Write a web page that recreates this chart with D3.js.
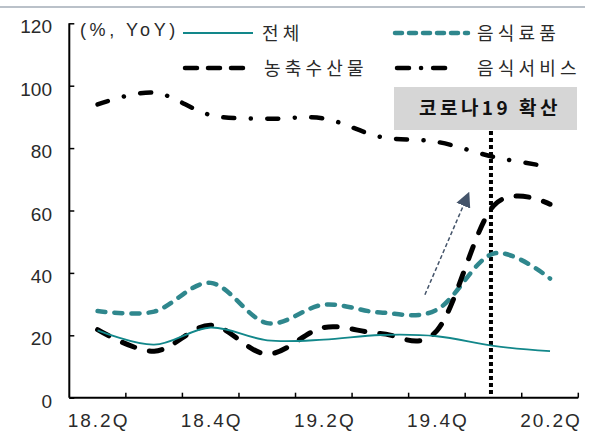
<!DOCTYPE html>
<html>
<head>
<meta charset="utf-8">
<script src="https://cdn.jsdelivr.net/npm/d3@7"></script>
<style>
  html, body { margin: 0; padding: 0; background: #fff; }
  svg { display: block; }
</style>
</head>
<body>
<svg id="chart" width="595" height="432"></svg>
<script>
// Quarters on the x axis (every other one is labelled)
const quarters = ["18.2Q", "18.3Q", "18.4Q", "19.1Q", "19.2Q", "19.3Q", "19.4Q", "20.1Q", "20.2Q"];
const labelledQuarters = ["18.2Q", "18.4Q", "19.2Q", "19.4Q", "20.2Q"];
const yTicks = [0, 20, 40, 60, 80, 100, 120];

// Growth rates, % YoY
const total      = [21.6, 17.0, 22.5, 18.4, 18.6, 20.1, 19.7, 16.6, 14.9];   // 전체
const foodGoods  = [27.8, 27.6, 36.8, 23.9, 29.8, 27.3, 28.2, 46.2, 38.2];   // 음식료품
const farmGoods  = [21.8, 14.9, 23.2, 14.0, 22.5, 20.6, 21.5, 61.5, 62.0];   // 농축수산물
const foodServ   = [94.0, 97.8, 90.6, 89.4, 89.5, 83.6, 82.0, 77.2, 74.0];   // 음식서비스

const seriesNames = ["전체", "음식료품", "농축수산물", "음식서비스"];
const covidQuarter = "20.1Q";
const covidLabel = "코로나19 확산";
const unitLabel = "(%, YoY)";

const svg = d3.select("#chart");
const plotL = 69.3, plotR = 578.3, plotT = 23.3, plotB = 397.7;

const x = d3.scaleBand().domain(quarters).range([plotL, plotR]).paddingInner(0).paddingOuter(0);
const xc = q => x(q) + x.bandwidth() / 2;
const y = d3.scaleLinear().domain([0, 120]).range([plotB, plotT]);

const numFont = "'Liberation Sans', Arial, sans-serif";
const korFont = "'Noto Sans CJK KR', 'Noto Sans', sans-serif";

// thin rule across the top
svg.append("line")
  .attr("x1", 0).attr("x2", 585).attr("y1", 7).attr("y2", 7)
  .attr("stroke", "#a3acb7").attr("stroke-width", 1.5);

// series styles
const styles = [
  { data: total,     color: "#12878a", width: 1.8, dash: null,                cap: "butt" },
  { data: foodGoods, color: "#2f878d", width: 4.5, dash: "8 9",               cap: "round" },
  { data: farmGoods, color: "#000000", width: 5,   dash: "13 15",             cap: "round" },
  { data: foodServ,  color: "#000000", width: 4.5, dash: "11 16.5 0.1 16.4",  cap: "round" }
];

const line = d3.line()
  .x((d, i) => xc(quarters[i]))
  .y(d => y(d))
  .curve(d3.curveCatmullRom.alpha(0));

// covid marker line
const covidX = xc(covidQuarter) - 2.5;
svg.append("line")
  .attr("x1", covidX).attr("x2", covidX)
  .attr("y1", 131).attr("y2", plotB)
  .attr("stroke", "#000").attr("stroke-width", 4)
  .attr("stroke-dasharray", "4 3");

// series lines (draw order: service, farm, food, total)
[3, 1, 2, 0].forEach(k => {
  const s = styles[k];
  svg.append("path")
    .datum(s.data)
    .attr("d", line)
    .attr("fill", "none")
    .attr("stroke", s.color)
    .attr("stroke-width", s.width)
    .attr("stroke-linecap", s.cap)
    .attr("stroke-linejoin", "round")
    .attr("stroke-dasharray", s.dash);
});

// axes
const yAxis = d3.axisRight(y).tickValues(yTicks).tickSize(5).tickFormat("");
const yg = svg.append("g").attr("transform", `translate(${plotL},0)`).call(yAxis);
yg.select(".domain").attr("stroke", "#000").attr("stroke-width", 2).attr("d", `M0,${plotT}V${plotB}`);
yg.selectAll(".tick line").attr("stroke", "#000").attr("stroke-width", 1.5);

svg.append("g").selectAll("text")
  .data(yTicks).join("text")
  .attr("x", 52).attr("y", d => y(d) + 10)
  .attr("text-anchor", "end")
  .attr("font-family", numFont).attr("font-size", 19)
  .attr("fill", "#2a2a2a")
  .text(d => d);

const xBounds = quarters.map(q => x(q) + x.bandwidth());
svg.append("line")
  .attr("x1", plotL).attr("x2", plotR).attr("y1", plotB).attr("y2", plotB)
  .attr("stroke", "#000").attr("stroke-width", 2);
svg.append("g").selectAll("line")
  .data(xBounds).join("line")
  .attr("x1", d => d).attr("x2", d => d)
  .attr("y1", plotB).attr("y2", plotB - 5)
  .attr("stroke", "#000").attr("stroke-width", 1.5);

svg.append("g").selectAll("text")
  .data(labelledQuarters).join("text")
  .attr("x", d => xc(d) + 1).attr("y", 427)
  .attr("text-anchor", "middle")
  .attr("font-family", numFont).attr("font-size", 19)
  .attr("letter-spacing", 2)
  .attr("fill", "#2a2a2a")
  .text(d => d);

// legend
svg.append("text")
  .attr("x", 80).attr("y", 36)
  .attr("font-family", numFont).attr("font-size", 18)
  .attr("letter-spacing", 3.6)
  .attr("fill", "#2a2a2a")
  .text(unitLabel);

const legendPos = [
  { x1: 183, x2: 253, ly: 33, tx: 262 },
  { x1: 395, x2: 468, ly: 33, tx: 477 },
  { x1: 185, x2: 250, ly: 68, tx: 264 },
  { x1: 397, x2: 455, ly: 68, tx: 477 }
];
const legendDash = [null, "7 7", "12 11", "12 12 0.1 12"];
const lg = svg.append("g");
seriesNames.forEach((name, i) => {
  const p = legendPos[i], s = styles[i];
  lg.append("line")
    .attr("x1", p.x1).attr("x2", p.x2).attr("y1", p.ly).attr("y2", p.ly)
    .attr("stroke", s.color)
    .attr("stroke-width", i === 0 ? 1.8 : 4.5)
    .attr("stroke-linecap", s.cap)
    .attr("stroke-dasharray", legendDash[i]);
  lg.append("text")
    .attr("x", p.tx).attr("y", p.ly + 7)
    .attr("font-family", korFont).attr("font-size", 18)
    .attr("letter-spacing", 4.2)
    .attr("fill", "#2a2a2a")
    .text(name);
});

// annotation box
svg.append("rect")
  .attr("x", 394).attr("y", 87).attr("width", 183).attr("height", 43)
  .attr("fill", "#d6d6d6");
svg.append("text")
  .attr("x", 490).attr("y", 115)
  .attr("text-anchor", "middle")
  .attr("font-family", korFont).attr("font-size", 19).attr("font-weight", "bold")
  .attr("letter-spacing", 3.5)
  .attr("fill", "#111")
  .text(covidLabel);

// arrow pointing up towards the jump
const arrowFrom = [xc("19.4Q") - 12, y(33)];
const arrowTo = [xc("19.4Q") + 27, y(62)];
const defs = svg.append("defs");
defs.append("marker")
  .attr("id", "arrowHead")
  .attr("viewBox", "0 0 10 10")
  .attr("refX", 1).attr("refY", 5)
  .attr("markerWidth", 15).attr("markerHeight", 15)
  .attr("markerUnits", "userSpaceOnUse")
  .attr("orient", "auto")
  .append("path").attr("d", "M0,0L10,5L0,10Z").attr("fill", "#44546a");
svg.append("line")
  .attr("x1", arrowFrom[0]).attr("y1", arrowFrom[1])
  .attr("x2", arrowTo[0]).attr("y2", arrowTo[1])
  .attr("stroke", "#44546a").attr("stroke-width", 1.5)
  .attr("stroke-dasharray", "4 2.5")
  .attr("marker-end", "url(#arrowHead)");
</script>
</body>
</html>
